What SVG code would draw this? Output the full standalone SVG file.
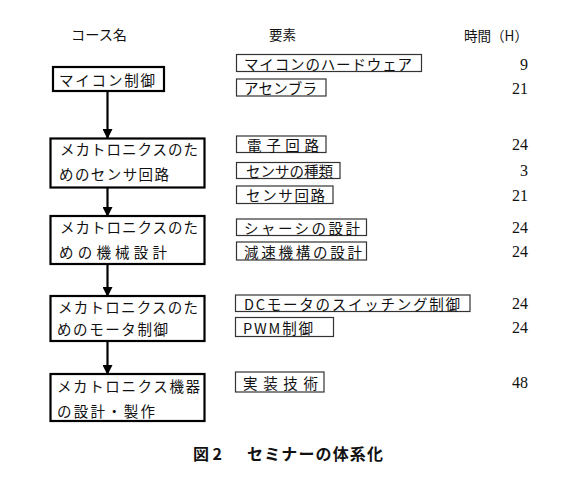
<svg xmlns="http://www.w3.org/2000/svg" width="571" height="486" viewBox="0 0 571 486">
<defs>
<style>
.t{font-family:"Noto Sans CJK JP","Noto Sans CJK SC",sans-serif;font-size:14.5px;fill:#111;dominant-baseline:central}
.n{font-family:"Liberation Serif",serif;font-size:16px;fill:#111;text-anchor:end;dominant-baseline:central}
.h{font-family:"Noto Sans CJK JP",sans-serif;font-size:14px;fill:#111;dominant-baseline:central}
.cap{font-family:"Noto Sans CJK JP",sans-serif;font-size:16px;font-weight:bold;fill:#111;dominant-baseline:central}
.main{fill:#fff;stroke:#000;stroke-width:2.2}
.el{fill:#fff;stroke:#333;stroke-width:1.2}
.conn{stroke:#000;stroke-width:2.2;fill:none}
</style>
<marker id="ah" markerWidth="10" markerHeight="10" refX="9" refY="5" orient="auto" markerUnits="userSpaceOnUse">
<path d="M0,0 L10,5 L0,10 Z" fill="#000"/>
</marker>
</defs>
<rect width="571" height="486" fill="#fff"/>

<g id="headers">
<text class="h" x="71" y="34" textLength="56" lengthAdjust="spacingAndGlyphs">コース名</text>
<text class="h" x="269" y="34" textLength="27" lengthAdjust="spacingAndGlyphs">要素</text>
<text class="h" x="464" y="35" textLength="64" lengthAdjust="spacingAndGlyphs">時間（H）</text>
</g>

<g id="connectors">
<line class="conn" x1="107.5" y1="91" x2="107.5" y2="138" marker-end="url(#ah)"/>
<line class="conn" x1="107.5" y1="188" x2="107.5" y2="216" marker-end="url(#ah)"/>
<line class="conn" x1="107.5" y1="264" x2="107.5" y2="296" marker-end="url(#ah)"/>
<line class="conn" x1="107.5" y1="341" x2="107.5" y2="374" marker-end="url(#ah)"/>
</g>

<g id="course1">
<rect class="main" x="53" y="67" width="111" height="24"/>
<text class="t" x="59" y="79" textLength="96" lengthAdjust="spacing">マイコン制御</text>
</g>
<g id="course2">
<rect class="main" x="50.5" y="138.5" width="154" height="49"/>
<text class="t" x="60" y="148.5" textLength="138" lengthAdjust="spacing">メカトロニクスのた</text>
<text class="t" x="59" y="173.5" textLength="110" lengthAdjust="spacing">めのセンサ回路</text>
</g>
<g id="course3">
<rect class="main" x="50.5" y="216" width="154" height="48"/>
<text class="t" x="60" y="226" textLength="138" lengthAdjust="spacing">メカトロニクスのた</text>
<text class="t" x="59" y="251" textLength="108" lengthAdjust="spacing">めの機械設計</text>
</g>
<g id="course4">
<rect class="main" x="50.5" y="296" width="154" height="45"/>
<text class="t" x="58" y="306.5" textLength="140" lengthAdjust="spacing">メカトロニクスのた</text>
<text class="t" x="57" y="328.5" textLength="111" lengthAdjust="spacing">めのモータ制御</text>
</g>
<g id="course5">
<rect class="main" x="50.5" y="374" width="154" height="47"/>
<text class="t" x="57" y="385" textLength="143" lengthAdjust="spacing">メカトロニクス機器</text>
<text class="t" x="57" y="410" textLength="98" lengthAdjust="spacing">の設計・製作</text>
</g>

<g id="elements">
<g id="e1"><rect class="el" x="236.5" y="54.5" width="185" height="17"/><text class="t" x="244" y="63" textLength="168" lengthAdjust="spacing">マイコンのハードウェア</text></g>
<g id="e2"><rect class="el" x="236.5" y="79" width="89.5" height="17"/><text class="t" x="244" y="87.5" textLength="73" lengthAdjust="spacing">アセンブラ</text></g>
<g id="e3"><rect class="el" x="236.5" y="136" width="89.5" height="16.5"/><text class="t" x="247" y="144.3" textLength="72" lengthAdjust="spacing">電子回路</text></g>
<g id="e4"><rect class="el" x="236.5" y="162.5" width="103.5" height="16"/><text class="t" x="246" y="170.5" textLength="87" lengthAdjust="spacing">センサの種類</text></g>
<g id="e5"><rect class="el" x="236.5" y="186" width="96.5" height="17.5"/><text class="t" x="246" y="194.7" textLength="79" lengthAdjust="spacing">センサ回路</text></g>
<g id="e6"><rect class="el" x="236.5" y="219" width="130" height="16.5"/><text class="t" x="244" y="227.2" textLength="116" lengthAdjust="spacing">シャーシの設計</text></g>
<g id="e7"><rect class="el" x="236.5" y="242" width="130" height="18"/><text class="t" x="244" y="251" textLength="118" lengthAdjust="spacing">減速機構の設計</text></g>
<g id="e8"><rect class="el" x="235.5" y="295" width="234.5" height="16.5"/><text class="t" x="244" y="303.2" textLength="216" lengthAdjust="spacing">DCモータのスイッチング制御</text></g>
<g id="e9"><rect class="el" x="235.5" y="317.5" width="98" height="19"/><text class="t" x="243" y="327" textLength="70" lengthAdjust="spacing">PWM制御</text></g>
<g id="e10"><rect class="el" x="235.5" y="372" width="88.5" height="20"/><text class="t" x="243" y="382" textLength="75" lengthAdjust="spacing">実装技術</text></g>
</g>

<g id="hours">
<text class="n" x="528" y="64">9</text>
<text class="n" x="528" y="88">21</text>
<text class="n" x="528" y="144.5">24</text>
<text class="n" x="528" y="170">3</text>
<text class="n" x="528" y="195">21</text>
<text class="n" x="528" y="227">24</text>
<text class="n" x="528" y="251.5">24</text>
<text class="n" x="528" y="303">24</text>
<text class="n" x="528" y="327.5">24</text>
<text class="n" x="528" y="382.5">48</text>
</g>

<g id="caption">
<text class="cap" x="193" y="452.5" textLength="29" lengthAdjust="spacing">図2</text>
<text class="cap" x="247" y="452.5" textLength="136" lengthAdjust="spacing">セミナーの体系化</text>
</g>
</svg>
